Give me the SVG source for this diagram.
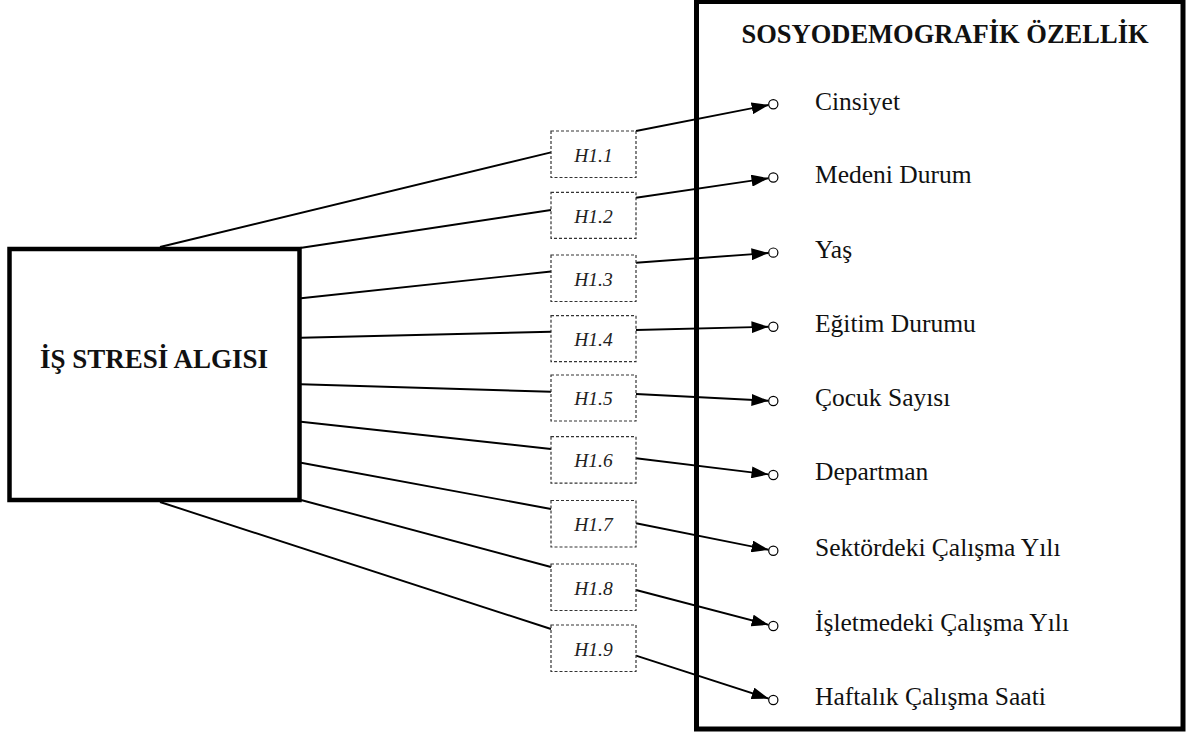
<svg xmlns="http://www.w3.org/2000/svg" width="1187" height="735" viewBox="0 0 1187 735">
<style>
.big{stroke:#000;}
.hbox{fill:#fff;stroke:#333;stroke-width:1.2;stroke-dasharray:3 2;}
.hl{font-family:"Liberation Serif",serif;font-style:italic;font-size:19.5px;fill:#222;text-anchor:middle;}
.item{font-family:"Liberation Serif",serif;font-size:25.5px;fill:#111;}
.bold{font-family:"Liberation Serif",serif;font-weight:bold;fill:#111;text-anchor:middle;}
.ln{stroke:#000;stroke-width:1.9;fill:none;}
.arr{marker-end:url(#ah);}
.dot{fill:#fff;stroke:#000;stroke-width:1.2;}
</style>
<defs>
<marker id="ah" viewBox="0 0 17 12" refX="17" refY="6" markerWidth="17" markerHeight="12" markerUnits="userSpaceOnUse" orient="auto">
<path d="M0,0 L17,6 L0,12 z" fill="#000"/>
</marker>
</defs>
<rect width="1187" height="735" fill="#fff"/>
<g id="connectors">
<line class="ln" x1="160" y1="247" x2="551" y2="152.3"/>
<line class="ln" x1="300" y1="248" x2="551" y2="210"/>
<line class="ln" x1="301" y1="298.3" x2="551" y2="271.5"/>
<line class="ln" x1="301" y1="337.7" x2="551" y2="331.7"/>
<line class="ln" x1="301" y1="384.3" x2="551" y2="391.7"/>
<line class="ln" x1="301" y1="421.7" x2="551" y2="449"/>
<line class="ln" x1="301" y1="462.7" x2="551" y2="509"/>
<line class="ln" x1="301" y1="500" x2="551" y2="567"/>
<line class="ln" x1="160" y1="502" x2="551" y2="629"/>
<line class="ln arr" x1="636" y1="131" x2="768.6" y2="105"/>
<line class="ln arr" x1="636" y1="197.7" x2="768.5" y2="178.2"/>
<line class="ln arr" x1="636" y1="262.7" x2="768.5" y2="253"/>
<line class="ln arr" x1="636" y1="330" x2="768.5" y2="326.8"/>
<line class="ln arr" x1="636" y1="394" x2="768.5" y2="400.8"/>
<line class="ln arr" x1="636" y1="458.3" x2="768.5" y2="474.4"/>
<line class="ln arr" x1="636" y1="523.3" x2="768.6" y2="549.8"/>
<line class="ln arr" x1="636" y1="590" x2="768.6" y2="624.8"/>
<line class="ln arr" x1="636" y1="655.7" x2="768.7" y2="698.6"/>
</g>
<g id="node-is-stresi">
<rect class="big" x="9.5" y="249" width="290" height="251" stroke-width="4.5" fill="#fff"/>
<text class="bold" x="154" y="368" font-size="27">İŞ STRESİ ALGISI</text>
</g>
<g id="node-sosyodemografik">
<rect class="big" x="696.5" y="1.5" width="486.5" height="727.5" stroke-width="5" fill="none"/>
<text class="bold" x="945" y="43.3" font-size="26.5">SOSYODEMOGRAFİK ÖZELLİK</text>
</g>
<g id="h-labels">
<g id="h1-1"><rect class="hbox" x="551" y="131" width="85" height="46.5"/><text class="hl" x="593.5" y="161.5">H1.1</text></g>
<g id="h1-2"><rect class="hbox" x="551" y="192.3" width="85" height="46"/><text class="hl" x="593.5" y="222.7">H1.2</text></g>
<g id="h1-3"><rect class="hbox" x="551" y="255" width="85" height="46.5"/><text class="hl" x="593.5" y="285.7">H1.3</text></g>
<g id="h1-4"><rect class="hbox" x="551" y="315.7" width="85" height="46"/><text class="hl" x="593.5" y="346">H1.4</text></g>
<g id="h1-5"><rect class="hbox" x="551" y="375" width="85" height="46"/><text class="hl" x="593.5" y="405.3">H1.5</text></g>
<g id="h1-6"><rect class="hbox" x="551" y="436.7" width="85" height="46.5"/><text class="hl" x="593.5" y="467.3">H1.6</text></g>
<g id="h1-7"><rect class="hbox" x="551" y="500.5" width="85" height="46.5"/><text class="hl" x="593.5" y="531">H1.7</text></g>
<g id="h1-8"><rect class="hbox" x="551" y="564" width="85" height="46.5"/><text class="hl" x="593.5" y="594.5">H1.8</text></g>
<g id="h1-9"><rect class="hbox" x="551" y="625" width="85" height="46.5"/><text class="hl" x="593.5" y="655.5">H1.9</text></g>
</g>
<g id="items">
<g id="item-1"><circle class="dot" cx="773.3" cy="104.2" r="4.6"/><text class="item" x="815" y="110">Cinsiyet</text></g>
<g id="item-2"><circle class="dot" cx="773.3" cy="177.5" r="4.6"/><text class="item" x="815" y="183">Medeni Durum</text></g>
<g id="item-3"><circle class="dot" cx="773.3" cy="252.6" r="4.6"/><text class="item" x="815" y="258">Yaş</text></g>
<g id="item-4"><circle class="dot" cx="773.3" cy="326.7" r="4.6"/><text class="item" x="815" y="332">Eğitim Durumu</text></g>
<g id="item-5"><circle class="dot" cx="773.3" cy="401" r="4.6"/><text class="item" x="815" y="406">Çocuk Sayısı</text></g>
<g id="item-6"><circle class="dot" cx="773.3" cy="475" r="4.6"/><text class="item" x="815" y="480">Departman</text></g>
<g id="item-7"><circle class="dot" cx="773.3" cy="550.7" r="4.6"/><text class="item" x="815" y="555.5">Sektördeki Çalışma Yılı</text></g>
<g id="item-8"><circle class="dot" cx="773.3" cy="626" r="4.6"/><text class="item" x="815" y="630.5">İşletmedeki Çalışma Yılı</text></g>
<g id="item-9"><circle class="dot" cx="773.3" cy="700" r="4.6"/><text class="item" x="815" y="704.5">Haftalık Çalışma Saati</text></g>
</g>
</svg>
